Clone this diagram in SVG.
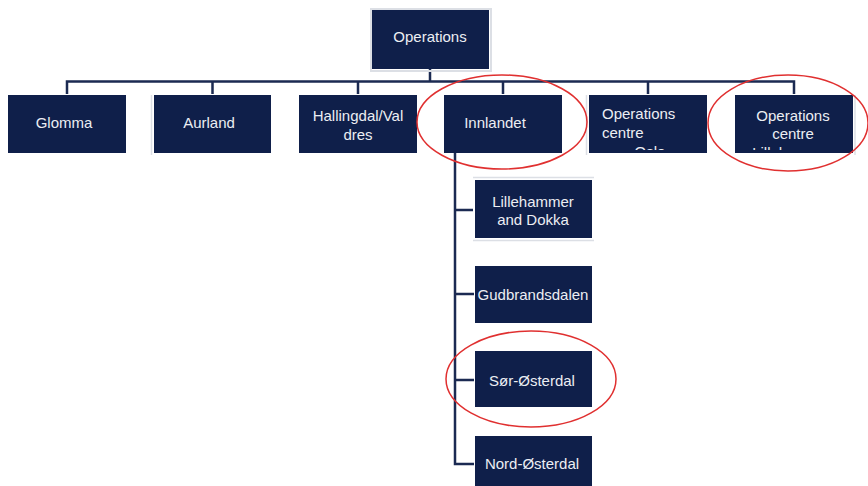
<svg xmlns="http://www.w3.org/2000/svg" width="868" height="486" viewBox="0 0 868 486">
<style>
.box{fill:#0f1f4a}
.sh{fill:none;stroke:#dcdfe5;stroke-width:2}
.t{font-family:"Liberation Sans",Arial,sans-serif;font-size:15px;fill:#eceef3}
.c{text-anchor:middle}
.ln{fill:none;stroke:#1b2a52;stroke-width:2.5}
.hl{fill:none;stroke:#e03030;stroke-width:1.5}
</style>
<defs>
<clipPath id="clipOslo"><rect x="589" y="95" width="118" height="55"/></clipPath>
<clipPath id="clipLil"><rect x="735" y="95" width="118" height="55"/></clipPath>
</defs>
<rect width="868" height="486" fill="#ffffff"/>
<g id="connectors">
<path class="ln" d="M430,69 V81.5 M67,94 V81.5 H794 V94 M212.5,81.5 V94 M358,81.5 V94 M503,81.5 V94 M648,81.5 V94"/>
<path class="ln" d="M455,153 V464 H474 M455,210 H473 M455,294 H474 M455,380 H474"/>
</g>
<g id="n-operations">
<rect class="sh" x="371" y="9" width="120" height="62"/>
<rect class="box" x="372" y="10" width="117" height="59"/>
<text class="t c" x="430" y="42">Operations</text>
</g>
<g id="n-glomma">
<rect class="box" x="8" y="95" width="118" height="58"/>
<text class="t c" x="64" y="127.5">Glomma</text>
</g>
<g id="n-aurland">
<line x1="151.5" y1="95" x2="151.5" y2="155" stroke="#dcdfe5" stroke-width="1.5"/>
<rect class="box" x="154" y="95" width="117" height="58"/>
<text class="t c" x="209" y="127.5">Aurland</text>
</g>
<g id="n-hallingdal">
<rect class="box" x="299" y="95" width="118" height="58"/>
<text class="t c" x="358" y="120.5">Hallingdal/Val</text>
<text class="t c" x="358" y="139.5">dres</text>
</g>
<g id="n-innlandet">
<rect class="box" x="444" y="95" width="118" height="58"/>
<text class="t c" x="495" y="127.5">Innlandet</text>
</g>
<g id="n-oc-oslo">
<line x1="586.5" y1="95" x2="586.5" y2="155" stroke="#dcdfe5" stroke-width="1.5"/>
<rect class="box" x="589" y="95" width="118" height="58"/>
<g clip-path="url(#clipOslo)">
<text class="t" x="602" y="118.5">Operations</text>
<text class="t" x="602" y="137.5">centre</text>
<text class="t c" x="650" y="157">Oslo</text>
</g>
</g>
<g id="n-oc-lillehammer">
<rect class="box" x="735" y="95" width="118" height="58"/>
<line x1="855" y1="95" x2="855" y2="155" stroke="#dcdfe5" stroke-width="1.5"/>
<g clip-path="url(#clipLil)">
<text class="t c" x="793" y="120.5">Operations</text>
<text class="t c" x="793" y="138.5">centre</text>
<text class="t c" x="793" y="157.5">Lillehammer</text>
</g>
</g>
<g id="n-lillehammer-dokka">
<line x1="473" y1="177.5" x2="594" y2="177.5" stroke="#dcdfe5" stroke-width="1.5"/>
<line x1="473" y1="240.5" x2="594" y2="240.5" stroke="#dcdfe5" stroke-width="1.5"/>
<rect class="box" x="475" y="180" width="117" height="58"/>
<text class="t c" x="533" y="206.5">Lillehammer</text>
<text class="t c" x="533" y="224.5">and Dokka</text>
</g>
<g id="n-gudbrandsdalen">
<rect class="box" x="475" y="266" width="117" height="57"/>
<text class="t c" x="533" y="299.5">Gudbrandsdalen</text>
</g>
<g id="n-sor-osterdal">
<rect class="box" x="475" y="351" width="117" height="56"/>
<text class="t c" x="532" y="385.5">Sør-Østerdal</text>
</g>
<g id="n-nord-osterdal">
<rect class="box" x="475" y="436" width="117" height="52"/>
<text class="t c" x="532" y="468.5">Nord-Østerdal</text>
</g>
<g id="highlights">
<ellipse class="hl" cx="502" cy="122" rx="85" ry="47"/>
<ellipse class="hl" cx="788" cy="123" rx="80" ry="48"/>
<ellipse class="hl" cx="531" cy="379" rx="85" ry="48"/>
</g>
</svg>
